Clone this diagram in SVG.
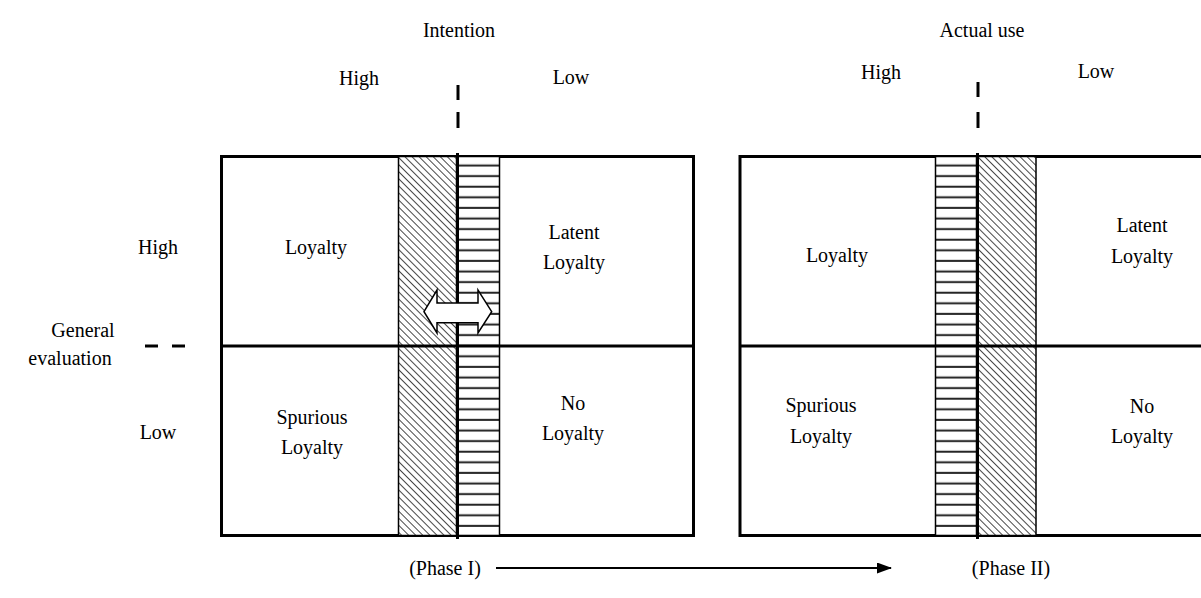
<svg xmlns="http://www.w3.org/2000/svg" width="1201" height="598" viewBox="0 0 1201 598">
<defs>
<pattern id="diag" patternUnits="userSpaceOnUse" width="5" height="5" patternTransform="rotate(-45)">
<rect width="5" height="5" fill="#fff"/>
<line x1="0" y1="0" x2="0" y2="5" stroke="#333" stroke-width="1.8"/>
</pattern>
<pattern id="horiz" patternUnits="userSpaceOnUse" x="0" y="156" width="10" height="10.6">
<rect width="10" height="10.6" fill="#fff"/>
<line x1="0" y1="9.5" x2="10" y2="9.5" stroke="#222" stroke-width="2"/>
</pattern>
<marker id="ah" markerWidth="15" markerHeight="11" refX="14" refY="5.5" orient="auto" markerUnits="userSpaceOnUse">
<path d="M0,0 L15,5.5 L0,11 Z" fill="#000"/>
</marker>
</defs>
<style>
text{font-family:"Liberation Serif","Times New Roman",serif;font-size:20px;fill:#000;text-anchor:middle}
.box{fill:#fff;stroke:#000;stroke-width:3}
.strip{stroke:#000;stroke-width:1.5}
.thick{stroke:#000;stroke-width:3;fill:none}
</style>

<g id="headers">
<text x="459" y="37">Intention</text>
<text x="982" y="37">Actual use</text>
<text x="359" y="85">High</text>
<text x="571" y="84">Low</text>
<text x="881" y="79">High</text>
<text x="1096" y="78">Low</text>
</g>

<g id="axis-left">
<text x="158" y="254">High</text>
<text x="83" y="337">General</text>
<text x="70" y="365">evaluation</text>
<text x="158" y="439">Low</text>
<line class="thick" x1="145" y1="346" x2="158" y2="346"/>
<line class="thick" x1="172" y1="346" x2="185" y2="346"/>
</g>

<g id="phase1">
<rect class="box" x="221.5" y="156.5" width="472" height="379"/>
<rect class="strip" x="398.5" y="156.5" width="58" height="379" fill="url(#diag)"/>
<rect class="strip" x="457.5" y="156.5" width="42" height="379" fill="url(#horiz)"/>
<line class="thick" x1="221.5" y1="346" x2="693.5" y2="346"/>
<line class="thick" x1="457.5" y1="153" x2="457.5" y2="539"/>
<line class="thick" x1="458" y1="85" x2="458" y2="100" stroke-width="3.5"/>
<line class="thick" x1="458" y1="112" x2="458" y2="128" stroke-width="3.5"/>
<path d="M424,311.7 L437,290 L437,303 L478,303 L478,290 L491.7,311.7 L478,333 L478,322.7 L437,322.7 L437,333 Z" fill="#fff" stroke="#000" stroke-width="1.5"/>
<text x="316" y="254">Loyalty</text>
<text x="574" y="239">Latent</text>
<text x="574" y="269">Loyalty</text>
<text x="312" y="424">Spurious</text>
<text x="312" y="454">Loyalty</text>
<text x="573" y="410">No</text>
<text x="573" y="440">Loyalty</text>
</g>

<g id="phase2">
<rect class="box" x="740" y="156.5" width="472" height="379"/>
<rect class="strip" x="935.5" y="156.5" width="41" height="379" fill="url(#horiz)"/>
<rect class="strip" x="977.5" y="156.5" width="58.5" height="379" fill="url(#diag)"/>
<line class="thick" x1="740" y1="346" x2="1212" y2="346"/>
<line class="thick" x1="977.5" y1="153" x2="977.5" y2="539"/>
<line class="thick" x1="978" y1="82" x2="978" y2="97" stroke-width="3.5"/>
<line class="thick" x1="978" y1="112" x2="978" y2="128" stroke-width="3.5"/>
<text x="837" y="262">Loyalty</text>
<text x="1142" y="232">Latent</text>
<text x="1142" y="263">Loyalty</text>
<text x="821" y="412">Spurious</text>
<text x="821" y="443">Loyalty</text>
<text x="1142" y="413">No</text>
<text x="1142" y="443">Loyalty</text>
</g>

<g id="connectors">
<line x1="496" y1="568" x2="891" y2="568" stroke="#000" stroke-width="2" marker-end="url(#ah)"/>
</g>

<g id="phases">
<text x="445" y="575">(Phase I)</text>
<text x="1011" y="575">(Phase II)</text>
</g>
</svg>
